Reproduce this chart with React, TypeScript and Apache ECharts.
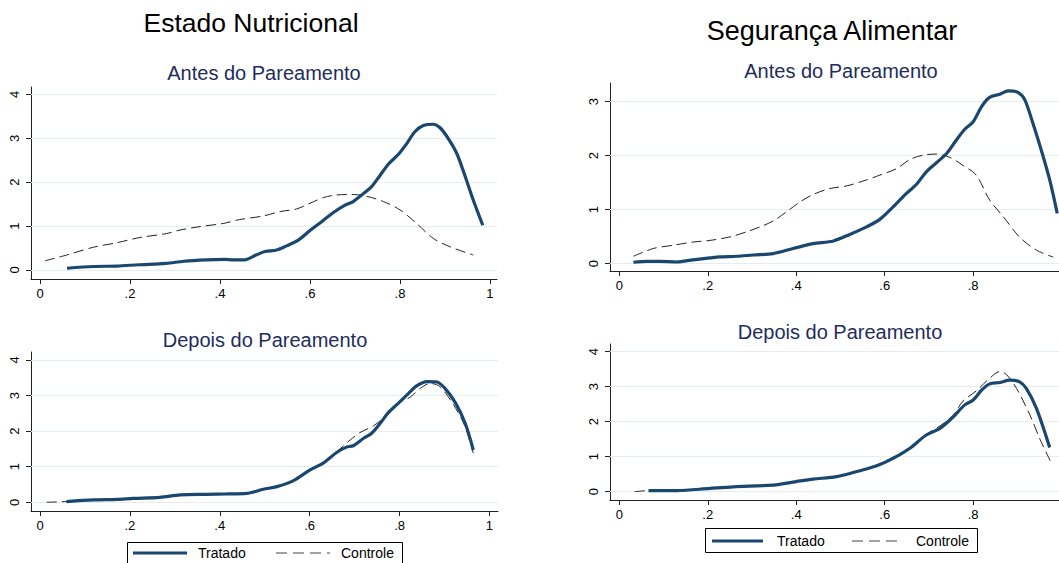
import React, { useEffect, useRef } from "react";
import * as echarts from "echarts";

const FONT = "'Liberation Sans', Arial, Helvetica, sans-serif";
const NAVY = "#1a476f";
const TITLE_NAVY = "#1e2d5c";
const GRIDLINE = "#e4eef0";

// Titles
const mainTitles = ["Estado Nutricional", "Segurança Alimentar"];
const subTitles = ["Antes do Pareamento", "Antes do Pareamento", "Depois do Pareamento", "Depois do Pareamento"];
const legendNames = ["Tratado", "Controle"];

// Tick values
const xTicksFull = [0, 0.2, 0.4, 0.6, 0.8, 1];
const xTicksCut = [0, 0.2, 0.4, 0.6, 0.8];
const yTicks4 = [0, 1, 2, 3, 4];
const yTicks3 = [0, 1, 2, 3];

// Estado Nutricional - Antes
const nutAntesTratado = [
  [0.06, 0.04], [0.119, 0.08], [0.17, 0.09], [0.22, 0.12], [0.28, 0.15], [0.32, 0.2],
  [0.37, 0.23], [0.41, 0.24], [0.43, 0.23], [0.455, 0.23], [0.48, 0.34], [0.5, 0.42],
  [0.526, 0.455], [0.548, 0.55], [0.574, 0.68], [0.6, 0.9], [0.626, 1.1], [0.652, 1.31],
  [0.678, 1.48], [0.696, 1.56], [0.715, 1.71], [0.737, 1.9], [0.756, 2.16], [0.774, 2.41],
  [0.796, 2.63], [0.815, 2.88], [0.833, 3.15], [0.852, 3.29], [0.874, 3.32], [0.889, 3.24],
  [0.907, 3.0], [0.926, 2.66], [0.944, 2.16], [0.963, 1.59], [0.984, 1.02],
];
const nutAntesControle = [
  [0.011, 0.21], [0.059, 0.34], [0.119, 0.52], [0.17, 0.62], [0.222, 0.74], [0.281, 0.83],
  [0.311, 0.91], [0.356, 0.99], [0.407, 1.06], [0.444, 1.15], [0.496, 1.23], [0.533, 1.33],
  [0.57, 1.39], [0.6, 1.52], [0.63, 1.65], [0.659, 1.71], [0.696, 1.72], [0.726, 1.68],
  [0.763, 1.56], [0.8, 1.37], [0.837, 1.06], [0.874, 0.72], [0.911, 0.53], [0.963, 0.34],
];

// Segurança Alimentar - Antes
const segAntesTratado = [
  [0.032, 0.025], [0.062, 0.04], [0.092, 0.04], [0.13, 0.03], [0.167, 0.07], [0.205, 0.105],
  [0.227, 0.124], [0.265, 0.136], [0.303, 0.16], [0.348, 0.186], [0.393, 0.28], [0.438, 0.37],
  [0.484, 0.42], [0.521, 0.54], [0.559, 0.68], [0.589, 0.82], [0.619, 1.05], [0.649, 1.3],
  [0.672, 1.47], [0.694, 1.7], [0.72, 1.89], [0.74, 2.04], [0.762, 2.29], [0.781, 2.49],
  [0.8, 2.63], [0.819, 2.91], [0.837, 3.08], [0.86, 3.14], [0.879, 3.2], [0.902, 3.17],
  [0.917, 3.03], [0.935, 2.6], [0.954, 2.1], [0.973, 1.55], [0.99, 0.93],
];
const segAntesControle = [
  [0.032, 0.136], [0.077, 0.28], [0.122, 0.34], [0.167, 0.4], [0.205, 0.43], [0.25, 0.495],
  [0.288, 0.59], [0.318, 0.68], [0.348, 0.79], [0.378, 0.96], [0.408, 1.14], [0.438, 1.28],
  [0.476, 1.39], [0.514, 1.44], [0.551, 1.53], [0.589, 1.64], [0.627, 1.76], [0.657, 1.93],
  [0.687, 2.01], [0.717, 2.03], [0.747, 1.97], [0.777, 1.82], [0.807, 1.64], [0.837, 1.18],
  [0.868, 0.87], [0.905, 0.49], [0.943, 0.25], [0.981, 0.12],
];

// Estado Nutricional - Depois
const nutDepoisTratado = [
  [0.059, 0.02], [0.119, 0.066], [0.171, 0.084], [0.208, 0.11], [0.267, 0.14], [0.312, 0.21],
  [0.371, 0.225], [0.415, 0.234], [0.46, 0.25], [0.497, 0.365], [0.527, 0.44], [0.564, 0.61],
  [0.601, 0.91], [0.631, 1.11], [0.66, 1.4], [0.682, 1.55], [0.697, 1.59], [0.72, 1.8],
  [0.738, 1.94], [0.757, 2.22], [0.775, 2.52], [0.797, 2.78], [0.82, 3.06], [0.838, 3.27],
  [0.861, 3.39], [0.883, 3.38], [0.901, 3.2], [0.924, 2.8], [0.946, 2.22], [0.964, 1.47],
];
const nutDepoisControle = [
  [0.015, 0.0], [0.06, 0.02], [0.12, 0.06], [0.17, 0.08], [0.21, 0.1], [0.27, 0.14],
  [0.31, 0.2], [0.37, 0.22], [0.415, 0.23], [0.46, 0.26], [0.5, 0.37], [0.53, 0.45],
  [0.565, 0.62], [0.6, 0.9], [0.63, 1.12], [0.66, 1.42], [0.69, 1.75], [0.712, 1.96],
  [0.742, 2.15], [0.772, 2.45], [0.8, 2.8], [0.823, 2.95], [0.846, 3.2], [0.868, 3.34],
  [0.89, 3.25], [0.92, 2.74], [0.945, 2.15], [0.964, 1.38],
];

// Segurança Alimentar - Depois
const segDepoisTratado = [
  [0.066, 0.03], [0.13, 0.03], [0.205, 0.095], [0.258, 0.14], [0.348, 0.19], [0.4, 0.29],
  [0.438, 0.36], [0.491, 0.43], [0.544, 0.6], [0.582, 0.74], [0.619, 0.95], [0.657, 1.24],
  [0.694, 1.62], [0.725, 1.81], [0.755, 2.14], [0.781, 2.48], [0.8, 2.62], [0.819, 2.9],
  [0.837, 3.08], [0.86, 3.12], [0.883, 3.19], [0.905, 3.14], [0.92, 2.95], [0.943, 2.38],
  [0.973, 1.26],
];
const segDepoisControle = [
  [0.035, 0.0], [0.066, 0.03], [0.13, 0.03], [0.205, 0.1], [0.258, 0.14], [0.348, 0.19],
  [0.4, 0.29], [0.438, 0.36], [0.491, 0.44], [0.544, 0.61], [0.582, 0.76], [0.619, 0.99],
  [0.657, 1.26], [0.694, 1.64], [0.725, 1.88], [0.755, 2.19], [0.777, 2.59], [0.807, 2.88],
  [0.837, 3.24], [0.86, 3.43], [0.875, 3.35], [0.898, 2.95], [0.928, 2.2], [0.951, 1.5],
  [0.977, 0.81],
];

type Panel = {
  grid: { left: number; top: number; width: number; height: number };
  xMin: number; xMax: number; yMin: number; yMax: number;
  xTicks: number[]; yTicks: number[];
  tratado: number[][]; controle: number[][];
};

const panels: Panel[] = [
  { grid: { left: 31, top: 87, width: 466, height: 192 }, xMin: -0.02, xMax: 1.0156, yMin: -0.205, yMax: 4.169,
    xTicks: xTicksFull, yTicks: yTicks4, tratado: nutAntesTratado, controle: nutAntesControle },
  { grid: { left: 610, top: 83, width: 449, height: 188 }, xMin: -0.021, xMax: 0.994, yMin: -0.137, yMax: 3.347,
    xTicks: xTicksCut, yTicks: yTicks3, tratado: segAntesTratado, controle: segAntesControle },
  { grid: { left: 31, top: 352, width: 467, height: 159 }, xMin: -0.02, xMax: 1.019, yMin: -0.245, yMax: 4.224,
    xTicks: xTicksFull, yTicks: yTicks4, tratado: nutDepoisTratado, controle: nutDepoisControle },
  { grid: { left: 610, top: 344, width: 449, height: 156 }, xMin: -0.021, xMax: 0.994, yMin: -0.237, yMax: 4.22,
    xTicks: xTicksCut, yTicks: yTicks4, tratado: segDepoisTratado, controle: segDepoisControle },
];

const fmtX = (v: number) => (v === 0 ? "0" : v === 1 ? "1" : String(v).replace(/^0/, ""));

function legendGraphic(boxX: number, boxY: number, boxW: number, boxH: number, cy: number,
  l1: number, l2: number, t1: number, d1: number, d2: number, t2: number) {
  return [
    { type: "rect", shape: { x: boxX + 0.5, y: boxY + 0.5, width: boxW, height: boxH },
      style: { fill: "#fff", stroke: "#000", lineWidth: 1 }, z: 20 },
    { type: "line", shape: { x1: l1, y1: cy, x2: l2, y2: cy }, style: { stroke: NAVY, lineWidth: 3 }, z: 21 },
    { type: "text", x: t1, y: cy, style: { text: legendNames[0], fontSize: 14, fontFamily: FONT, fill: "#000",
      align: "left", verticalAlign: "middle" }, z: 21 },
    { type: "line", shape: { x1: d1, y1: cy, x2: d2, y2: cy },
      style: { stroke: "#444", lineWidth: 1, lineDash: [11, 6] }, z: 21 },
    { type: "text", x: t2, y: cy, style: { text: legendNames[1], fontSize: 14, fontFamily: FONT, fill: "#000",
      align: "left", verticalAlign: "middle" }, z: 21 },
  ];
}

function titleText(text: string, x: number, y: number, size: number, color: string) {
  return { type: "text", x, y, style: { text, fontSize: size, fontFamily: FONT, fill: color,
    align: "center", verticalAlign: "middle" }, z: 20 };
}

export default function App() {
  const ref = useRef<HTMLDivElement>(null);
  useEffect(() => {
    if (!ref.current) return;
    const chart = echarts.init(ref.current, null, { renderer: "svg" });
    const grids = panels.map((p) => ({ ...p.grid, containLabel: false }));
    const xAxes = panels.map((p, i) => ({
      gridIndex: i, type: "value", min: p.xMin, max: p.xMax,
      axisLine: { show: true, onZero: false, lineStyle: { color: "#222", width: 1 } },
      axisTick: { show: true, length: 5, customValues: p.xTicks, lineStyle: { color: "#222" } },
      axisLabel: { customValues: p.xTicks, formatter: fmtX, fontSize: 13, color: "#000", margin: 8, fontFamily: FONT },
      splitLine: { show: false },
    }));
    const yAxes = panels.map((p, i) => ({
      gridIndex: i, type: "value", min: p.yMin, max: p.yMax,
      axisLine: { show: true, onZero: false, lineStyle: { color: "#222", width: 1 } },
      axisTick: { show: true, length: 5, customValues: p.yTicks, lineStyle: { color: "#222" } },
      axisLabel: { customValues: p.yTicks, rotate: 90, fontSize: 13, color: "#000", margin: 10, fontFamily: FONT },
      splitLine: { show: false },
    }));
    const series: any[] = [];
    panels.forEach((p, i) => {
      series.push({
        name: "gridlines", type: "line", xAxisIndex: i, yAxisIndex: i, data: [], silent: true, z: 1,
        markLine: {
          silent: true, symbol: ["none", "none"], label: { show: false }, z: 1,
          lineStyle: { color: GRIDLINE, width: 1, type: "solid" },
          data: p.yTicks.map((v) => ({ yAxis: v })),
        },
      });
      series.push({
        name: legendNames[1], type: "line", xAxisIndex: i, yAxisIndex: i, data: p.controle,
        showSymbol: false, symbol: "none", smooth: 0.3, z: 10,
        lineStyle: { color: "#222", width: 1, type: [10, 5] },
      });
      series.push({
        name: legendNames[0], type: "line", xAxisIndex: i, yAxisIndex: i, data: p.tratado,
        showSymbol: false, symbol: "none", smooth: 0.3, z: 11,
        lineStyle: { color: NAVY, width: 3.2 },
      });
    });
    const graphic = [
      titleText(mainTitles[0], 251, 23, 26.5, "#000"),
      titleText(mainTitles[1], 832, 31, 27, "#000"),
      titleText(subTitles[0], 264, 73, 20, TITLE_NAVY),
      titleText(subTitles[1], 841, 71, 20, TITLE_NAVY),
      titleText(subTitles[2], 265, 340, 20, TITLE_NAVY),
      titleText(subTitles[3], 840, 332, 20, TITLE_NAVY),
      ...legendGraphic(127, 542, 275, 30, 553, 133, 187, 198, 276, 330, 341),
      ...legendGraphic(705, 528, 272, 24, 541, 712, 763, 777, 852, 903, 916),
    ];
    chart.setOption({
      animation: false,
      backgroundColor: "#fff",
      textStyle: { fontFamily: FONT },
      grid: grids,
      xAxis: xAxes,
      yAxis: yAxes,
      series,
      graphic,
    });
    return () => chart.dispose();
  }, []);
  return <div ref={ref} style={{ position: "absolute", left: 0, top: 0, width: 1059, height: 563 }} />;
}
